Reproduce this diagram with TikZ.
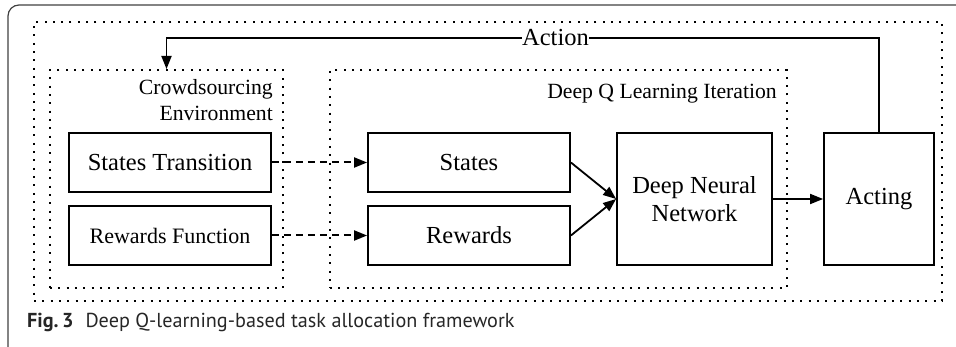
\documentclass[tikz,border=0pt]{standalone}
\usepackage{fontspec}
\setmainfont{Liberation Serif}
\newfontfamily\capfont{PT Sans}
\usetikzlibrary{arrows.meta}

\begin{document}
\begin{tikzpicture}[x=1pt,y=-1pt,
  box/.style={draw, line width=1.8pt, inner sep=0pt, align=center,
    font=\fontsize{24.5}{28}\selectfont},
  smallbox/.style={box, font=\fontsize{22}{26}\selectfont},
  dotbox/.style={draw, line width=2pt, dash pattern=on 2pt off 6.33pt, inner sep=0pt},
  grouplabel/.style={inner sep=0pt, align=right, font=\fontsize{21.7}{26}\selectfont},
  flow/.style={line width=1.8pt, -{Triangle[length=13pt,width=10pt]}},
  dashflow/.style={line width=2pt, dash pattern=on 7pt off 5pt,
    -{Triangle[length=13pt,width=10pt]}}]

\useasboundingbox (0,0) rectangle (956,347);

% outer frame of the figure panel
\begin{scope}
  \clip (0,0) rectangle (956,347);
  \draw[black!75, line width=1.2pt, rounded corners=11pt] (8,5) rectangle (1000,360);
\end{scope}

% dotted groupings
\node[dotbox, minimum width=908pt, minimum height=279pt] (outer) at (488,161.5) {};
\node[dotbox, minimum width=233pt, minimum height=218pt] (crowd) at (166.5,179) {};
\node[dotbox, minimum width=457pt, minimum height=218pt] (dq) at (558.5,179) {};

\node[grouplabel, anchor=east] (crowdlbl) at (273,100) {Crowdsourcing\\Environment};
\node[grouplabel, anchor=east] (dqlbl) at (777,94) {Deep Q Learning Iteration};

% boxes
\node[box, minimum width=202pt, minimum height=59pt] (trans) at (170,162.5) {States Transition};
\node[smallbox, minimum width=202pt, minimum height=59pt] (rfun) at (170,235.5) {Rewards Function};
\node[box, minimum width=202pt, minimum height=59pt] (states) at (469,162.5) {States};
\node[box, minimum width=202pt, minimum height=59pt] (rewards) at (469,235.5) {Rewards};
\node[box, minimum width=155pt, minimum height=132pt] (dnn) at (694.5,199) {Deep Neural\\Network};
\node[box, minimum width=110pt, minimum height=132pt] (acting) at (879,199) {Acting};

% connectors
\draw[dashflow] (trans) -- (states);
\draw[dashflow] (rfun) -- (rewards);
\draw[flow] (states.east) -- (dnn.west);
\draw[flow] (rewards.east) -- (dnn.west);
\draw[flow] (dnn) -- (acting);

\coordinate (turn) at (879,38);
\draw[flow] (acting.north) -- (turn) -| (crowd.north);
\node[fill=white, inner sep=0.6pt, font=\fontsize{24.5}{28}\selectfont] (actlbl) at (555.5,38) {Action};

% caption
\node[anchor=west, inner sep=0pt, text=black!85, font=\capfont\fontsize{20.2}{23}\selectfont] (cap) at (27,322)
  {\textbf{Fig.\,3}\hspace{12pt}Deep Q-learning-based task allocation framework};
\end{tikzpicture}
\end{document}
